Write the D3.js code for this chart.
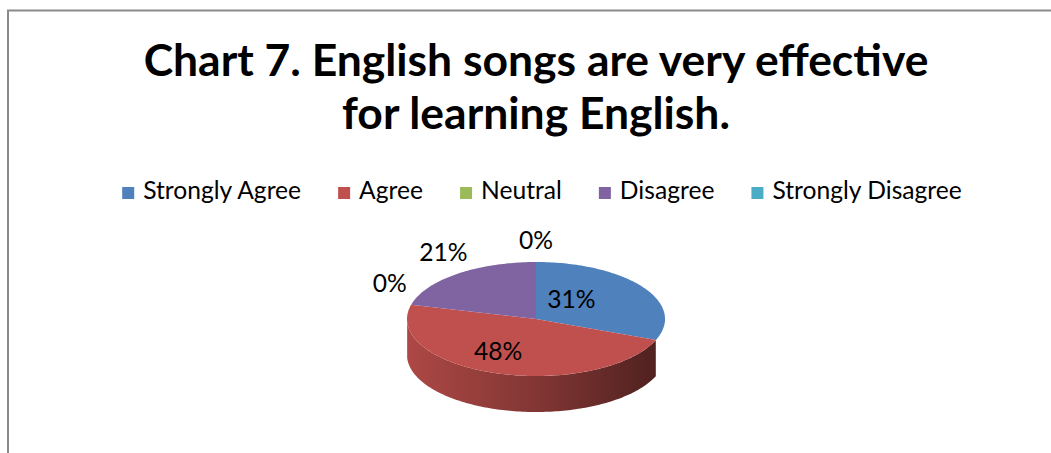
<!DOCTYPE html>
<html>
<head>
<meta charset="utf-8">
<script src="https://cdn.jsdelivr.net/npm/d3@7"></script>
<style>
  html, body { margin: 0; padding: 0; background: #fff; }
  svg { display: block; }
</style>
</head>
<body>
<div id="chart"></div>
<script>
// ---------- Data ---------- //
var categories = ["Strongly Agree", "Agree", "Neutral", "Disagree", "Strongly Disagree"];
var values = [31, 48, 0, 21, 0];
var colors = ["#4F81BD", "#C0504D", "#9BBB59", "#8064A2", "#4BACC6"];
var titleLines = ["Chart 7. English songs are very effective", "for learning English."];

var width = 1051;
var height = 453;
var font = "Lato, 'Open Sans', sans-serif";

var svg = d3.select("#chart")
            .append("svg")
            .attr("width", width)
            .attr("height", height);

// chart area border (cut off on the right and bottom)
svg.append("rect")
    .attr("x", 8)
    .attr("y", 10.5)
    .attr("width", 1200)
    .attr("height", 600)
    .attr("fill", "none")
    .attr("stroke", "#8a8a8a")
    .attr("stroke-width", 2);

// ---------- Title ---------- //
var title = svg.append("g")
    .attr("font-family", font)
    .attr("font-weight", "bold")
    .attr("text-anchor", "middle")
    .attr("fill", "#000");

var t1 = title.append("text")
    .attr("x", 536)
    .attr("y", 76)
    .attr("font-size", 40)
    .text(titleLines[0]);

// fit the first line to the width of the original title
var titleSize = 40 * 785 / t1.node().getComputedTextLength();
t1.attr("font-size", titleSize);

title.append("text")
    .attr("x", 536)
    .attr("y", 129)
    .attr("font-size", titleSize)
    .text(titleLines[1]);

// ---------- Legend ---------- //
var legend = svg.append("g")
    .attr("font-family", font)
    .attr("font-size", 22);

var probe = legend.append("text").text(categories[0]);
var legendSize = 22 * 158 / probe.node().getComputedTextLength();
probe.remove();
legend.attr("font-size", legendSize);

var items = legend.selectAll("g")
    .data(categories)
    .join("g");

items.append("rect")
    .attr("y", 187)
    .attr("width", 12)
    .attr("height", 12)
    .attr("fill", (d, i) => colors[i]);

items.append("text")
    .attr("x", 21)
    .attr("y", 199)
    .attr("fill", "#000")
    .text(d => d);

// lay the items out in a row, centred
var xPos = 0;
var offsets = [];
items.each(function(d, i){
  offsets.push(xPos);
  xPos += 21 + d3.select(this).select("text").node().getComputedTextLength() + 37;
});
var legendWidth = xPos - 37;
var legendX = 542 - legendWidth / 2;
items.attr("transform", (d, i) => `translate(${legendX + offsets[i]},0)`);

// ---------- 3D Pie ---------- //
var cx = 536, cy = 319, rx = 129, ry = 57, depth = 36;
// perspective : the wall silhouette starts a bit in front of the widest points
var wallStart = Math.PI / 2 + 0.38;
var wallEnd = 3 * Math.PI / 2 - 0.05;

var pie = d3.pie().sort(null).value(d => d);
var arcs = pie(values);

var pt = function(a, dy){
  return [cx + rx * Math.sin(a), cy - ry * Math.cos(a) + (dy || 0)];
}

var arcPoints = function(a0, a1, dy){
  var n = Math.max(2, Math.ceil(Math.abs(a1 - a0) / 0.02));
  return d3.range(n + 1).map(i => pt(a0 + (a1 - a0) * i / n, dy));
}

var line = d3.line();

var defs = svg.append("defs");
colors.forEach(function(c, i){
  var g = defs.append("linearGradient")
      .attr("id", "side" + i)
      .attr("gradientUnits", "userSpaceOnUse")
      .attr("x1", cx - rx).attr("x2", cx + rx)
      .attr("y1", 0).attr("y2", 0);
  g.append("stop").attr("offset", 0).attr("stop-color", d3.color(c).darker(0.3));
  g.append("stop").attr("offset", 0.5).attr("stop-color", d3.color(c).darker(1.1));
  g.append("stop").attr("offset", 1).attr("stop-color", d3.color(c).darker(2.6));
});

var pieG = svg.append("g");

// side walls : only the front part is visible
arcs.forEach(function(d){
  var a0 = Math.max(d.startAngle, wallStart);
  var a1 = Math.min(d.endAngle, wallEnd);
  if (a1 <= a0) return;
  var top = arcPoints(a0, a1, 0);
  var bottom = arcPoints(a1, a0, depth);
  pieG.append("path")
      .attr("d", line(top.concat(bottom)) + "Z")
      .attr("fill", `url(#side${d.index})`);
});

// top faces
pieG.selectAll("path.top")
    .data(arcs.filter(d => d.value > 0))
    .join("path")
    .attr("class", "top")
    .attr("d", d => line([[cx, cy]].concat(arcPoints(d.startAngle, d.endAngle, 0))) + "Z")
    .attr("fill", d => colors[d.index]);

// ---------- Data labels ---------- //
var total = d3.sum(values);
svg.append("g")
    .attr("font-family", font)
    .attr("font-size", legendSize)
    .attr("text-anchor", "middle")
    .attr("fill", "#000")
    .selectAll("text")
    .data(arcs)
    .join("text")
    .attr("dy", "0.35em")
    .attr("x", function(d){
      var a = (d.startAngle + d.endAngle) / 2;
      if (d.value > 0 && d.value / total > 0.25) return cx + 0.5 * rx * Math.sin(a) - 18;
      return cx + (rx + 22) * Math.sin(a);
    })
    .attr("y", function(d){
      var a = (d.startAngle + d.endAngle) / 2;
      if (d.value > 0 && d.value / total > 0.25) return cy - 0.6 * ry * Math.cos(a);
      return cy - (ry + 22) * Math.cos(a) - 18 * Math.pow(Math.abs(Math.sin(a)), 3);
    })
    .text(d => Math.round(d.value / total * 100) + "%");
</script>
</body>
</html>
